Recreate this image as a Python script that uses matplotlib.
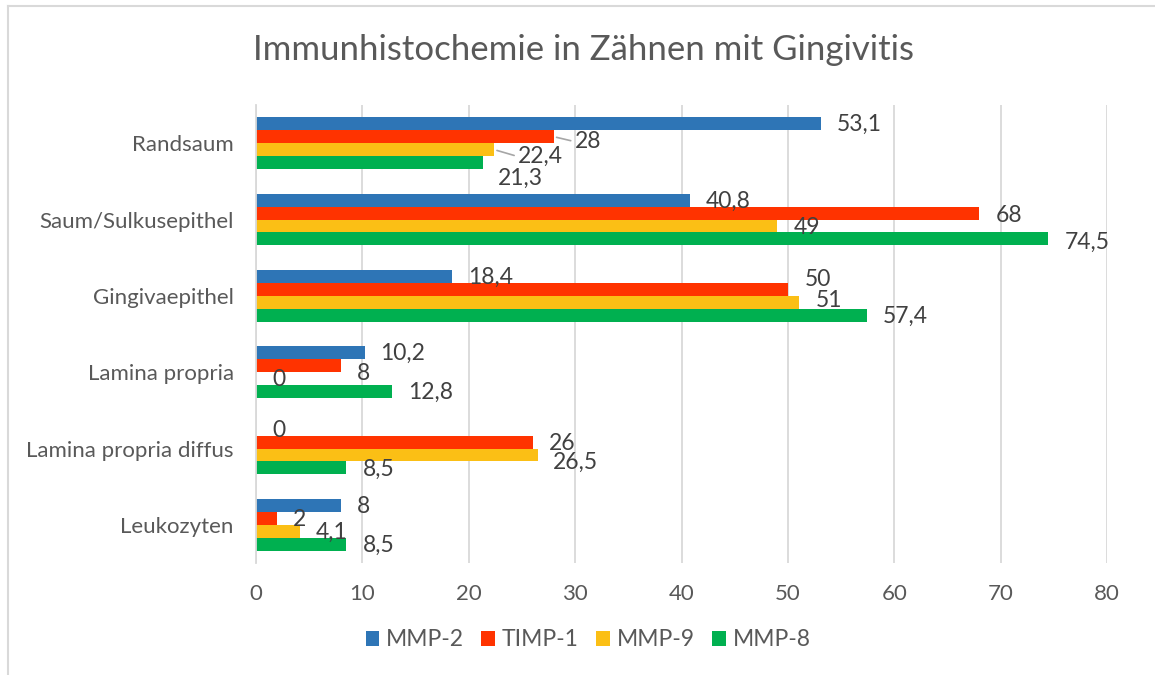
import numpy as np
import matplotlib
matplotlib.use("Agg")
import matplotlib.pyplot as plt
from matplotlib.lines import Line2D

plt.rcParams['font.family'] = ['Lato', 'DejaVu Sans']

categories = ['Randsaum', 'Saum/Sulkusepithel', 'Gingivaepithel',
              'Lamina propria', 'Lamina propria diffus', 'Leukozyten']
series = ['MMP-2', 'TIMP-1', 'MMP-9', 'MMP-8']
mmp2 = [53.1, 40.8, 18.4, 10.2, 0, 8]
timp1 = [28, 68, 50, 8, 26, 2]
mmp9 = [22.4, 49, 51, 0, 26.5, 4.1]
mmp8 = [21.3, 74.5, 57.4, 12.8, 8.5, 8.5]
values = [mmp2, timp1, mmp9, mmp8]
colors = ['#2E75B6', '#FF3300', '#FBBF15', '#00B050']

# label nudges in pixels (dx right, dy down), default (16, 1)
nudge = {(0, 1): (21, 5), (0, 2): (24, 7), (0, 3): (15, 16),
         (1, 1): (16, 2), (1, 2): (16, 2), (1, 3): (16, 3),
         (2, 1): (17, -10), (2, 2): (17, -2),
         (3, 1): (16, 8), (4, 2): (15, 7)}
leaders = [(0, 1), (0, 2)]

fig = plt.figure(figsize=(11.55, 6.75), dpi=100)
ax = fig.add_axes([256/1155, 1-563/675, (1107-256)/1155, (563-105)/675])

y = np.arange(len(categories))
h = 0.17
for i, (name, vals, c) in enumerate(zip(series, values, colors)):
    pos = y + (i - 1.5) * h
    ax.barh(pos, vals, height=h, color=c, label=name)
    for j, v in enumerate(vals):
        dx, dy = nudge.get((j, i), (16, 1))
        txt = f"{v:g}".replace('.', ',')
        kw = {}
        if (j, i) in leaders:
            kw['arrowprops'] = dict(arrowstyle='-', color='#A6A6A6', lw=1.2,
                                    shrinkA=1, shrinkB=2, relpos=(0, 0.5))
        ax.annotate(txt, (v, pos[j]), xytext=(dx, -dy), textcoords='offset pixels',
                    ha='left', va='center', fontsize=16.5, color='#404040', **kw)

ax.set_xlim(0, 80)
ax.set_ylim(5.5, -0.5)
ax.set_yticks(y)
ax.set_yticklabels(categories)
ax.set_xticks(np.arange(0, 81, 10))
ax.grid(axis='x', color='#D9D9D9', lw=1.3)
ax.set_axisbelow(True)
for s in ['top', 'right', 'bottom']:
    ax.spines[s].set_visible(False)
ax.spines['left'].set_color('#D9D9D9')
ax.spines['left'].set_linewidth(1.3)
ax.tick_params(axis='both', length=0, labelsize=16, labelcolor='#595959')
ax.tick_params(axis='y', pad=16)
ax.tick_params(axis='x', pad=15)

fig.text(0.505, 1-50/675, 'Immunhistochemie in Zähnen mit Gingivitis',
         ha='center', va='center', fontsize=25, color='#595959')

fig.legend(loc='center', bbox_to_anchor=(588/1155, 1-640/675), ncol=4, frameon=False,
           fontsize=16.5, labelcolor='#595959', handlelength=0.6, handleheight=0.6,
           handletextpad=0.3, columnspacing=0.75)

fig.add_artist(Line2D([8/1155, 1], [1-6/675, 1-6/675], color='#D9D9D9', lw=1.5,
                      transform=fig.transFigure))
fig.add_artist(Line2D([8/1155, 8/1155], [0, 1-6/675], color='#D9D9D9', lw=1.5,
                      transform=fig.transFigure))

plt.savefig('out.png', dpi=100)
